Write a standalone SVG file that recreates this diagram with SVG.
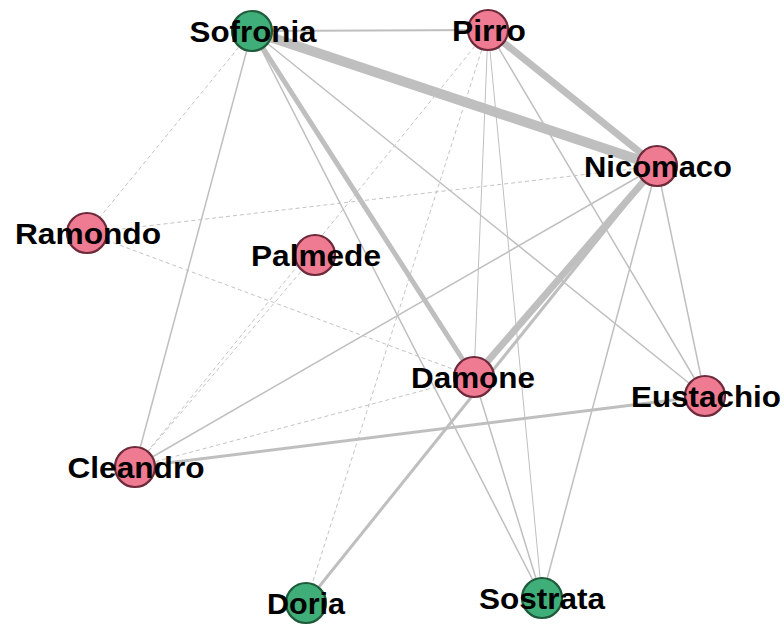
<svg xmlns="http://www.w3.org/2000/svg" width="784" height="626" viewBox="0 0 784 626">
<style>
.e{stroke:#bfbfbf;fill:none;stroke-linecap:butt}
.d{stroke:#c4c4c4;stroke-width:1;stroke-dasharray:4 3;fill:none}
.r{fill:#ef7b93;stroke:#6e2a3a;stroke-width:2.2}
.g{fill:#3fae78;stroke:#1f5a3a;stroke-width:2.2}
.t{font-family:"Liberation Sans",Arial,sans-serif;font-weight:bold;font-size:30px;fill:#000;text-anchor:middle}
</style>
<rect width="784" height="626" fill="#fff"/>
<g id="edges">
<line class="e" x1="252" y1="31" x2="488" y2="30" stroke-width="2"/>
<line class="e" x1="252" y1="31" x2="657" y2="166" stroke-width="10"/>
<line class="e" x1="252" y1="31" x2="474" y2="377" stroke-width="5"/>
<line class="e" x1="252" y1="31" x2="542" y2="598" stroke-width="1.5"/>
<line class="e" x1="252" y1="31" x2="705" y2="396" stroke-width="1.5"/>
<line class="e" x1="252" y1="31" x2="135" y2="467" stroke-width="1.5"/>
<line class="d" x1="252" y1="31" x2="87" y2="233"/>
<line class="e" x1="488" y1="30" x2="657" y2="166" stroke-width="7"/>
<line class="e" x1="488" y1="30" x2="474" y2="377" stroke-width="1"/>
<line class="e" x1="488" y1="30" x2="542" y2="598" stroke-width="1"/>
<line class="e" x1="488" y1="30" x2="705" y2="396" stroke-width="1.5"/>
<line class="d" x1="488" y1="30" x2="306" y2="603"/>
<line class="d" x1="488" y1="30" x2="135" y2="467"/>
<line class="d" x1="87" y1="233" x2="657" y2="166"/>
<line class="d" x1="87" y1="233" x2="474" y2="377"/>
<line class="e" x1="657" y1="166" x2="474" y2="377" stroke-width="7"/>
<line class="e" x1="657" y1="166" x2="306" y2="603" stroke-width="3"/>
<line class="e" x1="657" y1="166" x2="135" y2="467" stroke-width="1.5"/>
<line class="e" x1="657" y1="166" x2="705" y2="396" stroke-width="1.5"/>
<line class="e" x1="657" y1="166" x2="542" y2="598" stroke-width="1.5"/>
<line class="d" x1="135" y1="467" x2="315" y2="255"/>
<line class="d" x1="135" y1="467" x2="474" y2="377"/>
<line class="e" x1="135" y1="467" x2="705" y2="396" stroke-width="3"/>
<line class="e" x1="474" y1="377" x2="542" y2="598" stroke-width="1.5"/>
</g>
<g id="Sofronia"><circle class="g" cx="252" cy="31" r="20"/><text class="t" x="253" y="42" textLength="127" lengthAdjust="spacingAndGlyphs">Sofronia</text></g>
<g id="Pirro"><circle class="r" cx="488" cy="30" r="20"/><text class="t" x="489" y="41" textLength="74" lengthAdjust="spacingAndGlyphs">Pirro</text></g>
<g id="Nicomaco"><circle class="r" cx="657" cy="166" r="20"/><text class="t" x="658" y="177" textLength="148" lengthAdjust="spacingAndGlyphs">Nicomaco</text></g>
<g id="Ramondo"><circle class="r" cx="87" cy="233" r="20"/><text class="t" x="88" y="244" textLength="146" lengthAdjust="spacingAndGlyphs">Ramondo</text></g>
<g id="Palmede"><circle class="r" cx="315" cy="255" r="20"/><text class="t" x="316" y="266" textLength="130" lengthAdjust="spacingAndGlyphs">Palmede</text></g>
<g id="Damone"><circle class="r" cx="474" cy="377" r="20"/><text class="t" x="473" y="388" textLength="124" lengthAdjust="spacingAndGlyphs">Damone</text></g>
<g id="Eustachio"><circle class="r" cx="705" cy="396" r="20"/><text class="t" x="706" y="407" textLength="150" lengthAdjust="spacingAndGlyphs">Eustachio</text></g>
<g id="Cleandro"><circle class="r" cx="135" cy="467" r="20"/><text class="t" x="136" y="478" textLength="137" lengthAdjust="spacingAndGlyphs">Cleandro</text></g>
<g id="Doria"><circle class="g" cx="306" cy="603" r="20"/><text class="t" x="306" y="614" textLength="78" lengthAdjust="spacingAndGlyphs">Doria</text></g>
<g id="Sostrata"><circle class="g" cx="542" cy="598" r="20"/><text class="t" x="542" y="609" textLength="126" lengthAdjust="spacingAndGlyphs">Sostrata</text></g>
</svg>
